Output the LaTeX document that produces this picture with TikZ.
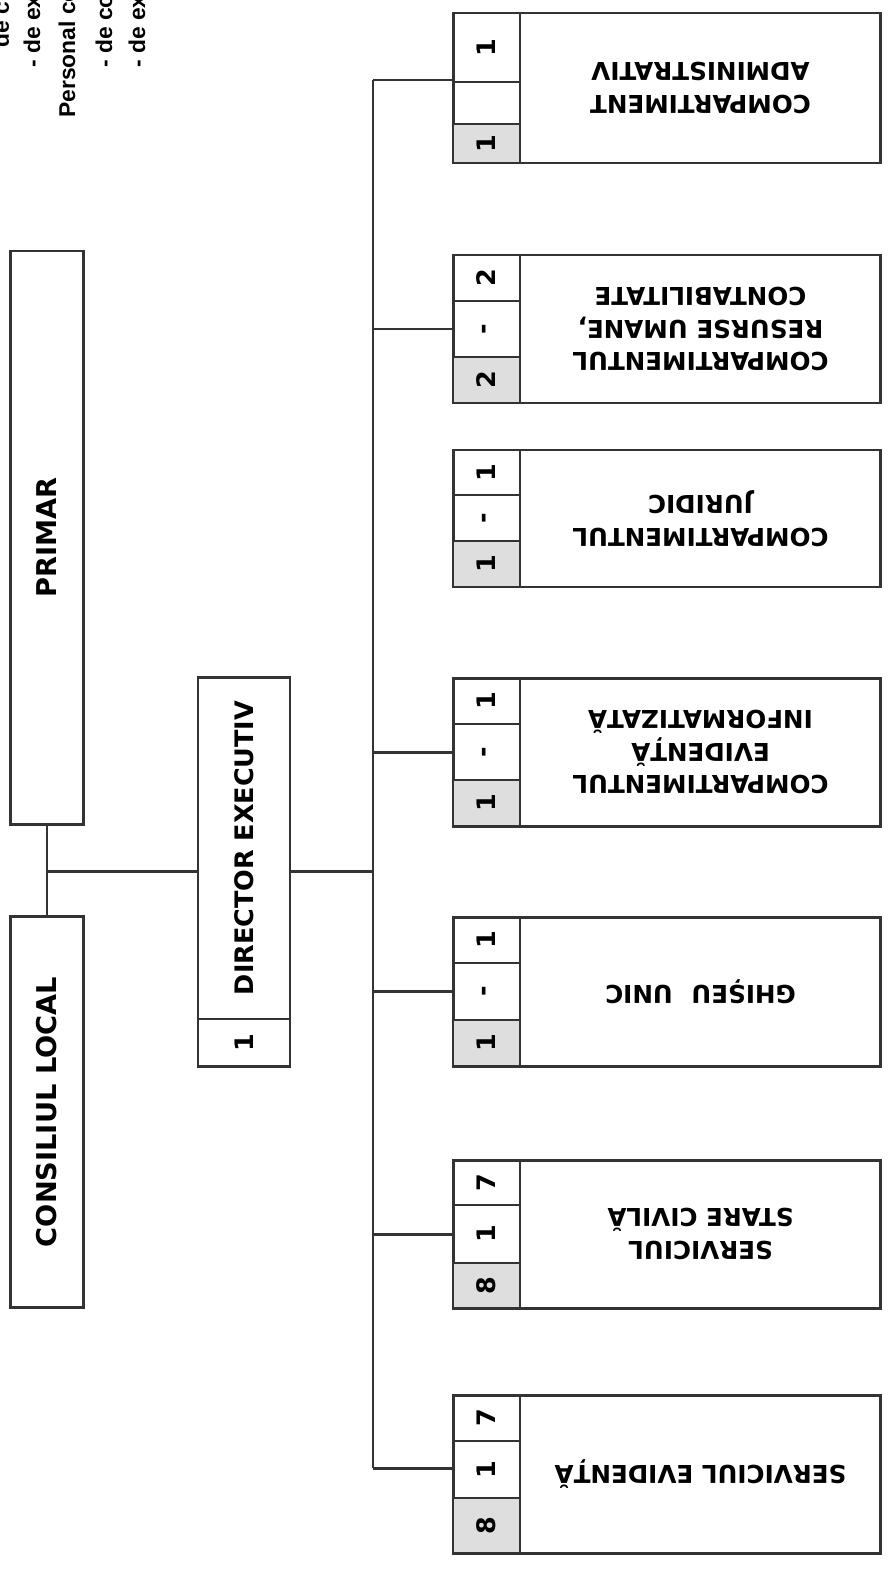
\documentclass[tikz,border=0pt]{standalone}
\usepackage{fontspec}
\setmainfont{DejaVu Sans}
\newfontfamily\notefont{Liberation Sans}
\usepackage{tikz}

\tikzset{
  box/.style={draw=black!80, line width=1.7pt, inner sep=0pt, fill=white},
  cell/.style={draw=black!80, line width=1.1pt, inner sep=0pt, minimum width={67*0.02cm}},
  graycell/.style={cell, fill=black!13},
  num/.style={rotate=90, inner sep=0pt, font=\fontsize{14.5}{16}\selectfont\bfseries},
  title/.style={rotate=180, align=center, inner sep=0pt, font=\fontsize{14}{18.5}\selectfont\bfseries},
  vtext/.style={rotate=90, inner sep=0pt, font=\fontsize{15.5}{18}\selectfont\bfseries},
  note/.style={rotate=90, anchor=base west, inner sep=0pt, font=\notefont\bfseries\fontsize{13}{15}\selectfont},
  link/.style={draw=black!80, line width=1.7pt},
}

% department box: name, top, first rule, second rule, bottom, three numbers, title
\newcommand{\deptbox}[9]{%
  \node[box, minimum width={427*0.02cm}, minimum height={(#5-#2)*0.02cm}] (#1) at (666.5,{(#2+#5)/2}) {};
  \node[cell, minimum height={(#3-#2)*0.02cm}] (#1a) at (486.5,{(#2+#3)/2}) {};
  \node[cell, minimum height={(#4-#3)*0.02cm}] (#1b) at (486.5,{(#3+#4)/2}) {};
  \node[graycell, minimum height={(#5-#4)*0.02cm}] (#1c) at (486.5,{(#4+#5)/2}) {};
  \node[num] (#1na) at (#1a) {#6};
  \node[num] (#1nb) at (#1b) {#7};
  \node[num] (#1nc) at (#1c) {#8};
  \node[title] (#1t) at (700.5,{(#2+#5)/2}) {#9};
}

\begin{document}
\begin{tikzpicture}[x=0.02cm, y=-0.02cm]
\useasboundingbox (0,0) rectangle (889,1571);
\clip (0,0) rectangle (889,1571);

% cut-off notes, top left
\node[note] (n1) at (9,48) {de co};
\node[note] (n2) at (40,68) {- de ex};
\node[note] (n3) at (75,118) {Personal co};
\node[note] (n4) at (112,68) {- de co};
\node[note] (n5) at (145,68) {- de ex};

% left column
\node[box, minimum width={73*0.02cm}, minimum height={573*0.02cm}] (primar) at (47,537.5) {};
\node[vtext] (primart) at (primar) {PRIMAR};
\node[box, minimum width={73*0.02cm}, minimum height={391*0.02cm}] (consiliu) at (47,1112) {};
\node[vtext] (consiliut) at (consiliu) {CONSILIUL LOCAL};

\node[box, minimum width={92*0.02cm}, minimum height={389*0.02cm}] (director) at (244,871.5) {};
\node[cell, minimum width={92*0.02cm}, minimum height={47*0.02cm}] (dircell) at (244,1042.5) {};
\node[num] (dirnum) at (dircell) {1};
\node[vtext, font=\fontsize{14.5}{17}\selectfont\bfseries] (dirt) at (244,848) {DIRECTOR EXECUTIV};

% departments
\deptbox{adm}{13}{82}{124}{163}{1}{}{1}{COMPARTIMENT\\ADMINISTRATIV}
\deptbox{rum}{255}{301}{357}{403}{2}{-}{2}{COMPARTIMENTUL\\RESURSE UMANE,\\CONTABILITATE}
\deptbox{jur}{450}{495}{541}{587}{1}{-}{1}{COMPARTIMENTUL\\JURIDIC}
\deptbox{inf}{678}{724}{780}{826}{1}{-}{1}{COMPARTIMENTUL\\EVIDENȚĂ\\INFORMATIZATĂ}
\deptbox{ghs}{917}{963}{1020}{1066}{1}{-}{1}{GHIȘEU\hspace{0.4em} UNIC}
\deptbox{stc}{1160}{1205}{1263}{1308}{7}{1}{8}{SERVICIUL\\STARE CIVILĂ}
\deptbox{evp}{1395}{1441}{1498}{1553}{7}{1}{8}{SERVICIUL EVIDENȚĂ}

% connectors
\coordinate (jn) at (primar.south |- director.west);
\draw[link] (primar.south) -- (consiliu.north);
\draw[link] (jn) -- (director.west);
\coordinate (bus) at (373,871.5);
\draw[link] (director.east) -- (bus);
\draw[link] ([yshift=0.16cm]bus |- adm.west) -- ([yshift=0.12cm]bus |- evp.west);
\draw[link] ([yshift=0.16cm]bus |- adm.west) -- ([yshift=0.16cm]adm.west);
\draw[link] ([yshift=0.12cm]bus |- evp.west) -- ([yshift=0.12cm]evp.west);
\foreach \d in {rum,inf,ghs,stc}
  \draw[link] (bus |- \d.west) -- (\d.west);
\end{tikzpicture}
\end{document}
